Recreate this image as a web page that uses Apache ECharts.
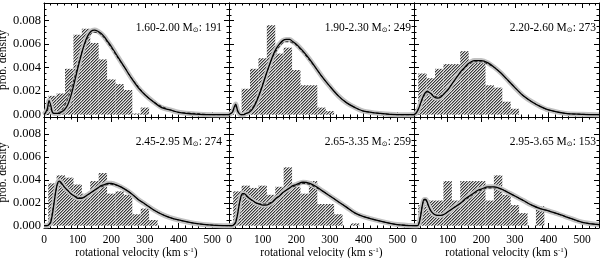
<!DOCTYPE html>
<html><head><meta charset="utf-8">
<script src="https://cdn.jsdelivr.net/npm/echarts@6/dist/echarts.min.js"></script>
<style>html,body{margin:0;padding:0;background:#fff}#c{width:600px;height:258px}</style>
</head><body><div id="c"></div>
<script>
// ---------- data ----------
const massRanges = ['1.60-2.00', '1.90-2.30', '2.20-2.60', '2.45-2.95', '2.65-3.35', '2.95-3.65'];
const starCounts = [191, 249, 273, 274, 259, 153];

const binStart = 12.5;
const binWidth = 25;
const hist1 = [0.0016, 0.0018, 0.0039, 0.0068, 0.0073, 0.0061, 0.0047, 0.0030, 0.0026, 0.0021, 0.0001, 0.0006];
const hist2 = [0, 0.0022, 0.0039, 0.0048, 0.0076, 0.0052, 0.0057, 0.0038, 0.0025, 0.0025, 0.0006, 0.0003];
const hist3 = [0.0035, 0.0031, 0.0039, 0.0043, 0.0043, 0.0054, 0.0045, 0.0045, 0.0025, 0.0023, 0.0011, 0.0005];
const hist4 = [0.0037, 0.0044, 0.0042, 0.0036, 0.0028, 0.0039, 0.0046, 0.0028, 0.0030, 0.0027, 0.0010, 0.0015, 0.0005];
const hist5 = [0.0030, 0.0035, 0.0033, 0.0035, 0.0027, 0.0034, 0.0051, 0.0034, 0.0028, 0.0039, 0.0019, 0.0019, 0.0010, 0, 0.0002];
const hist6 = [0.0018, 0.0022, 0.0022, 0.0039, 0.0022, 0.0039, 0.0039, 0.0039, 0.0022, 0.0044, 0.0027, 0.0018, 0.0011, 0, 0.0017];

const vGrid = [0,5,10,15,20,25,30,35,40,45,50,60,70,80,90,100,110,120,130,140,150,160,170,180,190,200,220,240,260,280,300,325,350,375,400,450,500,550];

const model1  = [0,0.0002,0.0005,0.0012,0.0008,0.0002,0.0001,0.0001,0.0001,0.0001,0.0002,0.0004,0.0008,0.0016,0.0027,0.0039,0.0050,0.0060,0.0067,0.0071,0.0072,0.0071,0.0069,0.0066,0.0062,0.0058,0.0049,0.0040,0.0031,0.0023,0.0017,0.0011,0.0006,0.0004,0.0002,0.00005,0,0];
const dashed1 = [0,0.0001,0.0003,0.0008,0.0005,0.0002,0.0001,0.0001,0.0001,0.0002,0.0003,0.0007,0.0013,0.0021,0.0031,0.0041,0.0051,0.0059,0.0065,0.0069,0.0070,0.0070,0.0068,0.0065,0.0061,0.0057,0.0048,0.0040,0.0031,0.0024,0.0017,0.0011,0.0007,0.0004,0.0002,0.0001,0,0];
const model2  = [0,0.0001,0.0002,0.0006,0.0009,0.0004,0.0001,0,0,0,0.0001,0.0002,0.0005,0.0010,0.0017,0.0025,0.0034,0.0042,0.0050,0.0056,0.0060,0.0063,0.0064,0.0064,0.0062,0.0060,0.0054,0.0047,0.0039,0.0031,0.0024,0.0016,0.0010,0.0006,0.0003,0.0001,0,0];
const dashed2 = [0,0.0001,0.0002,0.0005,0.0007,0.0003,0.0001,0,0,0.0001,0.0001,0.0003,0.0006,0.0011,0.0018,0.0026,0.0034,0.0042,0.0049,0.0054,0.0058,0.0061,0.0062,0.0062,0.0061,0.0059,0.0053,0.0046,0.0039,0.0031,0.0024,0.0016,0.0010,0.0006,0.0003,0.0001,0,0];
const model3  = [0,0.0001,0.0003,0.0006,0.0010,0.0014,0.0017,0.0019,0.0020,0.0019,0.0018,0.0015,0.0014,0.0015,0.0018,0.0021,0.0025,0.0029,0.0033,0.0037,0.0040,0.0043,0.0045,0.0046,0.0046,0.0046,0.0044,0.0040,0.0035,0.0029,0.0023,0.0016,0.0011,0.0007,0.0004,0.0001,0.00003,0];
const dashed3 = [0,0.0001,0.0003,0.0006,0.0010,0.0013,0.0016,0.0018,0.0019,0.0019,0.0018,0.0016,0.0015,0.0016,0.0018,0.0021,0.0025,0.0029,0.0033,0.0036,0.0039,0.0042,0.0044,0.0045,0.0045,0.0045,0.0043,0.0040,0.0035,0.0029,0.0023,0.0016,0.0011,0.0007,0.0004,0.0001,0.00003,0];
const model4  = [0,0,0,0.0001,0.0003,0.0010,0.0020,0.0030,0.0037,0.0039,0.0038,0.0034,0.0031,0.0028,0.0026,0.0024,0.0024,0.0025,0.0027,0.0029,0.0031,0.0033,0.0035,0.0036,0.0037,0.0037,0.0035,0.0032,0.0028,0.0023,0.0019,0.0014,0.0010,0.0007,0.0005,0.0002,0.00005,0];
const dashed4 = [0,0,0,0.0001,0.0004,0.0012,0.0021,0.0030,0.0036,0.0038,0.0037,0.0034,0.0031,0.0028,0.0026,0.0025,0.0024,0.0025,0.0027,0.0029,0.0031,0.0033,0.0034,0.0035,0.0036,0.0036,0.0035,0.0032,0.0028,0.0023,0.0019,0.0014,0.0010,0.0007,0.0005,0.0002,0.00005,0];
const model5  = [0,0,0,0.0001,0.0003,0.0009,0.0018,0.0025,0.0028,0.0028,0.0027,0.0024,0.0022,0.0020,0.0019,0.0018,0.0018,0.0019,0.0021,0.0024,0.0026,0.0029,0.0031,0.0033,0.0035,0.0036,0.0038,0.0037,0.0034,0.0030,0.0026,0.0021,0.0016,0.0011,0.0008,0.0004,0.0001,0];
const dashed5 = [0,0,0,0.0001,0.0004,0.0010,0.0018,0.0024,0.0027,0.0027,0.0026,0.0024,0.0022,0.0020,0.0019,0.0019,0.0019,0.0020,0.0021,0.0024,0.0026,0.0029,0.0031,0.0033,0.0034,0.0035,0.0037,0.0036,0.0033,0.0030,0.0026,0.0021,0.0016,0.0011,0.0008,0.0004,0.0001,0];
const model6  = [0,0,0,0.0002,0.0009,0.0018,0.0023,0.0023,0.0020,0.0016,0.0013,0.0010,0.0009,0.0009,0.0010,0.0012,0.0014,0.0016,0.0018,0.0020,0.0023,0.0025,0.0027,0.0029,0.0031,0.0032,0.0034,0.0034,0.0032,0.0029,0.0026,0.0022,0.0018,0.0015,0.0013,0.0008,0.0003,0.0001];
const dashed6 = [0,0,0,0.0003,0.0010,0.0018,0.0022,0.0022,0.0019,0.0016,0.0013,0.0010,0.0009,0.0009,0.0010,0.0012,0.0014,0.0016,0.0018,0.0020,0.0022,0.0024,0.0026,0.0028,0.0030,0.0031,0.0033,0.0033,0.0032,0.0029,0.0026,0.0022,0.0018,0.0015,0.0013,0.0008,0.0003,0.0001];

const xTickValues = [0, 100, 200, 300, 400, 500];
const xMinorValues = [20,40,60,80,120,140,160,180,220,240,260,280,320,340,360,380,420,440,460,480,520,540];
const yTickValues = [0, 0.002, 0.004, 0.006, 0.008];
const yMinorValues = [0.0005,0.001,0.0015,0.0025,0.003,0.0035,0.0045,0.005,0.0055,0.0065,0.007,0.0075,0.0085,0.009];

// ---------- layout / style ----------
const hists = [hist1, hist2, hist3, hist4, hist5, hist6];
const models = [model1, model2, model3, model4, model5, model6];
const dashes = [dashed1, dashed2, dashed3, dashed4, dashed5, dashed6];
const colLeft = [44, 229, 414];
const colW = 185;
const rowTop = [3, 117];
const rowH = [114, 111];
const labelRight = [378, 189, 4];
const labelTop = [22, 136];
const FONT = 'Liberation Serif';

function makeHatch() {
  const c = document.createElement('canvas');
  c.width = 3; c.height = 3;
  const ctx = c.getContext('2d');
  ctx.fillStyle = '#e6e6e6'; ctx.fillRect(0, 0, 3, 3);
  for (let i = 0; i < 3; i++) {
    ctx.fillStyle = '#383838'; ctx.fillRect(i, 2 - i, 1, 1);
    ctx.fillStyle = '#9a9a9a'; ctx.fillRect((i + 1) % 3, 2 - i, 1, 1);
  }
  return c;
}
const hatch = { image: makeHatch(), repeat: 'repeat' };

const grids = [], xAxes = [], yAxes = [], series = [], titles = [];
for (let p = 0; p < 6; p++) {
  const row = Math.floor(p / 3), col = p % 3;
  grids.push({ left: colLeft[col], top: rowTop[row], width: colW, height: rowH[row], outerBoundsMode: 'none', containLabel: false });
  const base = { type: 'value', gridIndex: p, min: 0, max: 550, splitLine: { show: false } };
  const xl = { fontFamily: FONT, fontSize: 11.5, color: '#000', margin: 6 };
  xAxes.push(Object.assign({}, base, {
    position: 'bottom',
    axisLine: { show: true, onZero: false, lineStyle: { color: '#000', width: 1 } },
    axisTick: { show: true, inside: true, length: 5, customValues: xTickValues, lineStyle: { color: '#000' } },
    axisLabel: Object.assign({ show: row === 1, customValues: xTickValues }, xl),
    name: row === 1 ? 'rotational velocity (km s{sup|-1})' : '',
    nameLocation: 'middle', nameGap: 14,
    nameTextStyle: { fontFamily: FONT, fontSize: 11.5, color: '#000', rich: { sup: { fontFamily: FONT, fontSize: 7, padding: [0, 0, 5, 0] } } }
  }));
  xAxes.push(Object.assign({}, base, {
    position: 'bottom', axisLine: { show: false, onZero: false },
    axisTick: { show: true, inside: true, length: 2.5, customValues: xMinorValues, lineStyle: { color: '#000' } },
    axisLabel: { show: false }
  }));
  xAxes.push(Object.assign({}, base, {
    position: 'top',
    axisLine: { show: true, onZero: false, lineStyle: { color: '#000', width: 1 } },
    axisTick: { show: true, inside: true, length: 5, customValues: xTickValues, lineStyle: { color: '#000' } },
    axisLabel: { show: false }
  }));
  xAxes.push(Object.assign({}, base, {
    position: 'top', axisLine: { show: false, onZero: false },
    axisTick: { show: true, inside: true, length: 2.5, customValues: xMinorValues, lineStyle: { color: '#000' } },
    axisLabel: { show: false }
  }));
  const ybase = { type: 'value', gridIndex: p, min: -0.0002, max: 0.0095, splitLine: { show: false } };
  yAxes.push(Object.assign({}, ybase, {
    position: 'left',
    axisLine: { show: true, onZero: false, lineStyle: { color: '#000', width: 1 } },
    axisTick: { show: true, inside: true, length: 5, customValues: yTickValues, lineStyle: { color: '#000' } },
    axisLabel: { show: col === 0, customValues: yTickValues, formatter: v => v.toFixed(3), fontFamily: FONT, fontSize: 12.5, color: '#000', margin: 3 },
    name: col === 0 ? 'prob. density' : '', nameLocation: 'middle', nameGap: 32,
    nameTextStyle: { fontFamily: FONT, fontSize: 11.5, color: '#000' }
  }));
  yAxes.push(Object.assign({}, ybase, {
    position: 'left', axisLine: { show: false, onZero: false },
    axisTick: { show: true, inside: true, length: 2.5, customValues: yMinorValues, lineStyle: { color: '#000' } },
    axisLabel: { show: false }
  }));
  yAxes.push(Object.assign({}, ybase, {
    position: 'right',
    axisLine: { show: true, onZero: false, lineStyle: { color: '#000', width: 1 } },
    axisTick: { show: true, inside: true, length: 5, customValues: yTickValues, lineStyle: { color: '#000' } },
    axisLabel: { show: false }
  }));
  yAxes.push(Object.assign({}, ybase, {
    position: 'right', axisLine: { show: false, onZero: false },
    axisTick: { show: true, inside: true, length: 2.5, customValues: yMinorValues, lineStyle: { color: '#000' } },
    axisLabel: { show: false }
  }));

  const ax = { xAxisIndex: p * 4, yAxisIndex: p * 4 };
  const bars = hists[p].map((h, i) => [binStart + i * binWidth, binStart + (i + 1) * binWidth, h]);
  series.push(Object.assign({
    type: 'custom', data: bars, encode: { x: [0, 1], y: 2 }, z: 1, silent: true,
    renderItem: function (params, api) {
      const a = api.coord([api.value(0), api.value(2)]);
      const b = api.coord([api.value(1), 0]);
      return { type: 'rect', shape: { x: a[0], y: a[1], width: b[0] - a[0], height: b[1] - a[1] },
        style: { fill: hatch, stroke: null } };
    }
  }, ax));
  const curve = models[p].map((y, i) => [vGrid[i], y]);
  const dcurve = dashes[p].map((y, i) => [vGrid[i], y]);
  series.push(Object.assign({ type: 'line', data: curve, smooth: 0.3, symbol: 'none', z: 2, silent: true,
    lineStyle: { color: '#c2c2c2', width: 5 } }, ax));
  series.push(Object.assign({ type: 'line', data: dcurve, smooth: 0.3, symbol: 'none', z: 3, silent: true,
    lineStyle: { color: '#222', width: 1, type: [3, 2] } }, ax));
  series.push(Object.assign({ type: 'line', data: curve, smooth: 0.3, symbol: 'none', z: 4, silent: true,
    lineStyle: { color: '#000', width: 1.3 } }, ax));

  titles.push({
    text: '{a|' + massRanges[p] + ' M}{s|⊙}{a|: ' + starCounts[p] + '}',
    right: labelRight[col], top: labelTop[row], padding: 0,
    textStyle: { fontWeight: 'normal', rich: {
      a: { fontFamily: FONT, fontSize: 11.5, fontWeight: 'normal', color: '#000' },
      s: { fontFamily: 'DejaVu Sans', fontSize: 7, fontWeight: 'normal', color: '#000', padding: [5, 0, 0, 0] }
    } }
  });
}

const chart = echarts.init(document.getElementById('c'), null, { renderer: 'canvas' });
chart.setOption({
  animation: false, backgroundColor: '#fff',
  title: titles, grid: grids, xAxis: xAxes, yAxis: yAxes, series: series
});
</script></body></html>
